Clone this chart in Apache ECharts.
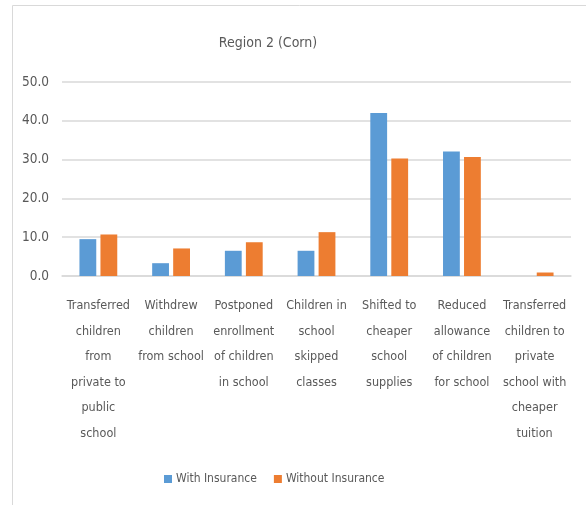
<!DOCTYPE html>
<html>
<head>
<meta charset="utf-8">
<script src="https://cdn.jsdelivr.net/npm/echarts@6/dist/echarts.min.js"></script>
<style>
  html, body { margin: 0; padding: 0; background: #fff; }
  #chart { width: 586px; height: 505px; }
</style>
</head>
<body>
<div id="chart"></div>
<script>
const categories = [
  'Transferred\nchildren\nfrom\nprivate to\npublic\nschool',
  'Withdrew\nchildren\nfrom school',
  'Postponed\nenrollment\nof children\nin school',
  'Children in\nschool\nskipped\nclasses',
  'Shifted to\ncheaper\nschool\nsupplies',
  'Reduced\nallowance\nof children\nfor school',
  'Transferred\nchildren to\nprivate\nschool with\ncheaper\ntuition'
]
const withInsurance = [9.5, 3.3, 6.5, 6.5, 42.0, 32.1, 0]
const withoutInsurance = [10.7, 7.1, 8.7, 11.3, 30.3, 30.7, 0.9]

const font = '"DejaVu Sans Condensed", "Liberation Sans", sans-serif'
const textColor = '#595959'

const chart = echarts.init(document.getElementById('chart'))
chart.setOption({
  animation: false,
  textStyle: { fontFamily: font },
  color: ['#5b9bd5', '#ed7d31'],
  title: {
    text: 'Region 2 (Corn)',
    left: 263,
    top: 31,
    textAlign: 'center',
    textStyle: { color: textColor, fontSize: 14, fontWeight: 'normal', fontFamily: font }
  },
  graphic: [{
    type: 'rect',
    shape: { x: 12.5, y: 5.5, width: 700, height: 600 },
    style: { fill: 'none', stroke: '#d9d9d9', lineWidth: 1 },
    silent: true
  }],
  legend: {
    bottom: 20,
    left: 164,
    padding: 0,
    itemWidth: 8,
    itemHeight: 8,
    itemGap: 17,
    icon: 'rect',
    textStyle: { color: textColor, fontSize: 12, fontFamily: font, padding: [0, 0, 0, -1] },
    data: ['With Insurance', 'Without Insurance']
  },
  grid: { left: 62, right: 15, top: 82, bottom: 229 },
  xAxis: {
    type: 'category',
    data: categories,
    axisTick: { show: false },
    axisLine: { lineStyle: { color: '#d9d9d9', width: 1.5 } },
    axisLabel: {
      interval: 0,
      margin: 17,
      color: textColor,
      fontSize: 12.5,
      lineHeight: 25.6,
      fontFamily: font
    }
  },
  yAxis: {
    type: 'value',
    min: 0,
    max: 50,
    interval: 10,
    axisLine: { show: false },
    axisTick: { show: false },
    axisLabel: {
      margin: 13,
      color: textColor,
      fontSize: 13.5,
      fontFamily: font,
      formatter: (v) => v.toFixed(1)
    },
    splitLine: { lineStyle: { color: '#d9d9d9', width: 1.5 } }
  },
  series: [
    {
      name: 'With Insurance',
      type: 'bar',
      data: withInsurance,
      barGap: '25%',
      barCategoryGap: '48%'
    },
    {
      name: 'Without Insurance',
      type: 'bar',
      data: withoutInsurance
    }
  ]
})
</script>
</body>
</html>
